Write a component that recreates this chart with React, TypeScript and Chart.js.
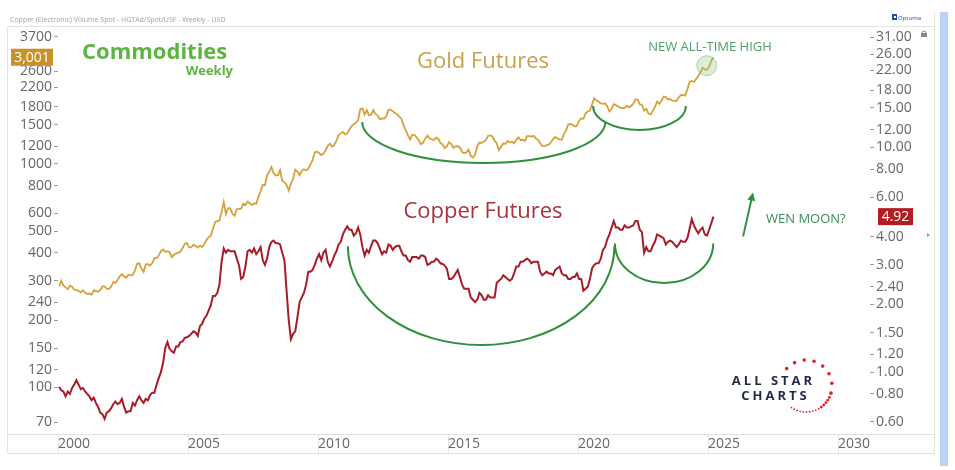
import React, { useEffect, useRef } from 'react';
import { Chart, registerables } from 'chart.js';

Chart.register(...registerables);

// ---- data (monthly, starting Jan 2000) ----
const START_YEAR = 2000;

const GOLD: number[] = [
  284, 300, 286, 280, 275, 285, 282, 274, 273, 270, 266, 272,
  265, 262, 263, 260, 272, 270, 268, 273, 283, 283, 276, 276,
  282, 296, 294, 302, 314, 321, 313, 310, 319, 317, 319, 333,
  357, 359, 340, 329, 355, 356, 351, 360, 379, 379, 389, 407,
  414, 405, 406, 403, 383, 392, 398, 400, 405, 420, 439, 442,
  424, 423, 434, 429, 422, 431, 424, 438, 456, 470, 476, 510,
  549, 555, 557, 610, 676, 596, 633, 632, 598, 586, 627, 629,
  631, 664, 655, 679, 667, 655, 665, 665, 712, 754, 806, 803,
  889, 922, 968, 909, 888, 889, 939, 839, 829, 806, 760, 816,
  858, 943, 924, 890, 928, 946, 934, 949, 996, 1043, 1127, 1134,
  1118, 1095, 1113, 1148, 1205, 1233, 1193, 1215, 1271, 1343, 1370, 1391,
  1356, 1372, 1424, 1473, 1510, 1528, 1572, 1756, 1772, 1665, 1739, 1652,
  1656, 1742, 1674, 1650, 1585, 1596, 1594, 1630, 1744, 1747, 1721, 1688,
  1670, 1627, 1593, 1487, 1414, 1343, 1286, 1352, 1349, 1316, 1275, 1225,
  1244, 1300, 1336, 1299, 1287, 1279, 1311, 1296, 1239, 1222, 1176, 1200,
  1251, 1227, 1179, 1198, 1199, 1182, 1131, 1117, 1125, 1159, 1086, 1068,
  1097, 1200, 1246, 1242, 1259, 1276, 1337, 1341, 1326, 1266, 1238, 1152,
  1192, 1234, 1231, 1266, 1246, 1260, 1236, 1283, 1314, 1279, 1282, 1265,
  1331, 1331, 1325, 1335, 1303, 1282, 1238, 1202, 1198, 1215, 1220, 1250,
  1291, 1320, 1300, 1286, 1283, 1359, 1413, 1500, 1510, 1495, 1471, 1480,
  1560, 1597, 1592, 1683, 1716, 1732, 1847, 1968, 1921, 1900, 1866, 1858,
  1867, 1808, 1718, 1760, 1850, 1834, 1807, 1785, 1776, 1777, 1821, 1790,
  1817, 1856, 1947, 1937, 1849, 1836, 1733, 1764, 1681, 1664, 1726, 1798,
  1898, 1855, 1912, 2000, 1992, 1943, 1950, 1918, 1915, 1916, 1985, 2030,
  2033, 2023, 2158, 2330, 2350, 2326, 2398, 2470, 2570, 2690, 2650, 2640,
  2710, 2900, 3001,
];

const COPPER: number[] = [
  0.86, 0.83, 0.82, 0.78, 0.82, 0.80, 0.85, 0.88, 0.92, 0.88, 0.84, 0.85,
  0.82, 0.80, 0.78, 0.75, 0.77, 0.73, 0.70, 0.66, 0.65, 0.62, 0.66, 0.67,
  0.69, 0.72, 0.74, 0.72, 0.73, 0.76, 0.70, 0.66, 0.67, 0.67, 0.73, 0.71,
  0.75, 0.78, 0.75, 0.73, 0.76, 0.75, 0.79, 0.81, 0.81, 0.88, 0.94, 1.00,
  1.10, 1.28, 1.36, 1.27, 1.24, 1.22, 1.30, 1.30, 1.36, 1.37, 1.42, 1.43,
  1.45, 1.48, 1.52, 1.50, 1.45, 1.60, 1.64, 1.73, 1.78, 1.88, 1.98, 2.18,
  2.18, 2.25, 2.45, 3.10, 3.55, 3.40, 3.50, 3.45, 3.45, 3.45, 3.20, 3.00,
  2.60, 2.65, 2.95, 3.45, 3.50, 3.40, 3.55, 3.35, 3.45, 3.60, 3.15, 3.00,
  3.20, 3.60, 3.80, 3.85, 3.75, 3.75, 3.70, 3.40, 3.15, 2.30, 1.70, 1.40,
  1.48, 1.52, 1.75, 2.05, 2.15, 2.25, 2.45, 2.80, 2.80, 2.85, 3.00, 3.20,
  3.35, 3.15, 3.40, 3.50, 3.10, 2.95, 3.10, 3.30, 3.45, 3.70, 3.80, 4.10,
  4.30, 4.45, 4.30, 4.30, 4.05, 4.15, 4.40, 4.10, 3.60, 3.30, 3.50, 3.40,
  3.65, 3.85, 3.85, 3.75, 3.55, 3.35, 3.45, 3.40, 3.70, 3.65, 3.50, 3.60,
  3.65, 3.65, 3.45, 3.30, 3.30, 3.15, 3.10, 3.25, 3.25, 3.25, 3.20, 3.30,
  3.30, 3.25, 3.00, 3.03, 3.10, 3.10, 3.20, 3.15, 3.05, 3.03, 2.98, 2.88,
  2.60, 2.60, 2.65, 2.75, 2.85, 2.65, 2.45, 2.35, 2.35, 2.35, 2.15, 2.10,
  2.05, 2.10, 2.25, 2.20, 2.10, 2.10, 2.20, 2.15, 2.15, 2.15, 2.50, 2.55,
  2.60, 2.70, 2.65, 2.60, 2.55, 2.60, 2.75, 2.95, 2.95, 3.10, 3.10, 3.15,
  3.20, 3.15, 3.05, 3.10, 3.10, 3.10, 2.80, 2.70, 2.75, 2.80, 2.75, 2.75,
  2.70, 2.85, 2.90, 2.95, 2.75, 2.70, 2.70, 2.60, 2.60, 2.65, 2.65, 2.75,
  2.60, 2.60, 2.30, 2.35, 2.40, 2.60, 2.90, 3.00, 3.05, 3.05, 3.20, 3.50,
  3.60, 3.90, 4.10, 4.40, 4.70, 4.40, 4.40, 4.30, 4.30, 4.50, 4.40, 4.40,
  4.45, 4.50, 4.70, 4.70, 4.30, 4.20, 3.40, 3.60, 3.45, 3.45, 3.65, 3.80,
  4.10, 4.05, 4.00, 3.95, 3.70, 3.80, 3.85, 3.80, 3.70, 3.60, 3.70, 3.85,
  3.80, 3.80, 3.95, 4.35, 4.80, 4.50, 4.30, 4.15, 4.30, 4.40, 4.10, 4.05,
  4.30, 4.60, 4.92,
];

const GOLD_TICKS = [70, 100, 120, 150, 200, 240, 300, 400, 500, 600, 800, 1000, 1200, 1500, 1800, 2200, 2600, 3700];
const COPPER_TICKS = [0.6, 0.8, 1, 1.2, 1.5, 2, 2.4, 3, 4, 6, 8, 10, 12, 15, 18, 22, 26, 31];
const YEAR_TICKS = [2000, 2005, 2010, 2015, 2020, 2025, 2030];

// annotation arcs (in data space): axis, start/end year, rim value, bottom value
const ARCS = [
  { axis: 'yL', x0: 2011.7, x1: 2021.05, rim: 1540, bottom: 1010 },
  { axis: 'yL', x0: 2020.58, x1: 2024.15, rim: 1818, bottom: 1419 },
  { axis: 'yR', x0: 2011.15, x1: 2021.4, rim: 3.63, bottom: 1.32 },
  { axis: 'yR', x0: 2021.42, x1: 2025.2, rim: 3.74, bottom: 2.49 },
];
const ARROW = { x0: 2026.35, y0: 4.02, x1: 2026.73, y1: 6.3 };
const ATH_MARK = { x: 2024.95, y: 2750 };

const xOf = (i: number) => START_YEAR + (i + 0.5) / 12;

const TICK_FONT = { family: '"Open Sans"', size: 14 };
const GREEN = '#2f8f3a';

function spacedText(ctx: CanvasRenderingContext2D, text: string, cx: number, y: number, sp: number) {
  const chars = Array.from(text);
  const ws = chars.map((c) => ctx.measureText(c).width);
  const total = ws.reduce((a, b) => a + b, 0) + sp * (chars.length - 1);
  let x = cx - total / 2;
  ctx.textAlign = 'left';
  chars.forEach((c, i) => {
    ctx.fillText(c, x, y);
    x += ws[i] + sp;
  });
}

const decorPlugin = {
  id: 'decor',
  beforeDraw(chart: any) {
    const ctx = chart.ctx as CanvasRenderingContext2D;
    ctx.save();
    ctx.fillStyle = '#ffffff';
    ctx.fillRect(0, 0, chart.width, chart.height);
    // header
    ctx.fillStyle = '#a0a0a0';
    ctx.font = '7px "Open Sans"';
    ctx.textAlign = 'left';
    ctx.textBaseline = 'middle';
    ctx.fillText('Copper (Electronic) Volume Spot - HGTAd/Spot/USF - Weekly - USD', 10, 20);
    // blue side bar
    ctx.fillStyle = '#bcd3f7';
    ctx.fillRect(940, 12, 8, 454);
    // frame
    const xs = chart.scales.x;
    const ca = chart.chartArea;
    ctx.strokeStyle = '#e2e2e2';
    ctx.lineWidth = 1;
    ctx.beginPath();
    ctx.moveTo(7.5, 26.5); ctx.lineTo(934.5, 26.5);
    ctx.moveTo(7.5, 26.5); ctx.lineTo(7.5, 453.5);
    ctx.moveTo(934.5, 12); ctx.lineTo(934.5, 453.5);
    ctx.moveTo(7.5, ca.bottom + 1.5); ctx.lineTo(934.5, ca.bottom + 1.5);
    ctx.moveTo(7.5, 453.5); ctx.lineTo(934.5, 453.5);
    YEAR_TICKS.forEach((v) => {
      const px = Math.round(xs.getPixelForValue(v)) + 0.5;
      ctx.moveTo(px, ca.bottom + 1.5); ctx.lineTo(px, 453.5);
    });
    ctx.stroke();
    // Optuma logo
    ctx.fillStyle = '#1f4fa0';
    ctx.fillRect(892, 14, 5, 6);
    ctx.fillStyle = '#ffffff';
    ctx.fillRect(894, 16, 2, 2);
    ctx.fillStyle = '#1f4fa0';
    ctx.font = '6px "Open Sans"';
    ctx.fillText('Optuma', 898, 18);
    // lock icon
    ctx.fillStyle = '#888';
    ctx.fillRect(921, 33, 6, 4);
    ctx.strokeStyle = '#888';
    ctx.beginPath();
    ctx.arc(924, 33, 2, Math.PI, 0);
    ctx.stroke();
    // small marker at right
    ctx.fillStyle = '#999';
    ctx.beginPath();
    ctx.moveTo(927, 233); ctx.lineTo(930, 235); ctx.lineTo(927, 237); ctx.closePath();
    ctx.fill();
    ctx.restore();
  },
  afterDatasetsDraw(chart: any) {
    const ctx = chart.ctx as CanvasRenderingContext2D;
    const xs = chart.scales.x;
    ctx.save();
    // arcs
    ctx.strokeStyle = GREEN;
    ctx.lineWidth = 2;
    ARCS.forEach((a) => {
      const ys = chart.scales[a.axis];
      const p0 = xs.getPixelForValue(a.x0);
      const p1 = xs.getPixelForValue(a.x1);
      const top = ys.getPixelForValue(a.rim);
      const bot = ys.getPixelForValue(a.bottom);
      ctx.beginPath();
      ctx.ellipse((p0 + p1) / 2, top, (p1 - p0) / 2, bot - top, 0, 0, Math.PI);
      ctx.stroke();
    });
    // arrow
    const yr = chart.scales.yR;
    const ax0 = xs.getPixelForValue(ARROW.x0), ay0 = yr.getPixelForValue(ARROW.y0);
    const ax1 = xs.getPixelForValue(ARROW.x1), ay1 = yr.getPixelForValue(ARROW.y1);
    const ang = Math.atan2(ay1 - ay0, ax1 - ax0);
    ctx.beginPath();
    ctx.moveTo(ax0, ay0);
    ctx.lineTo(ax1 - 5 * Math.cos(ang), ay1 - 5 * Math.sin(ang));
    ctx.stroke();
    ctx.fillStyle = GREEN;
    ctx.beginPath();
    ctx.moveTo(ax1, ay1);
    ctx.lineTo(ax1 - 8 * Math.cos(ang) + 4 * Math.sin(ang), ay1 - 8 * Math.sin(ang) - 4 * Math.cos(ang));
    ctx.lineTo(ax1 - 8 * Math.cos(ang) - 4 * Math.sin(ang), ay1 - 8 * Math.sin(ang) + 4 * Math.cos(ang));
    ctx.closePath();
    ctx.fill();
    // ATH circle
    const yl = chart.scales.yL;
    const cx = xs.getPixelForValue(ATH_MARK.x), cy = yl.getPixelForValue(ATH_MARK.y);
    ctx.beginPath();
    ctx.arc(cx, cy, 10, 0, Math.PI * 2);
    ctx.fillStyle = 'rgba(150,205,140,0.35)';
    ctx.fill();
    ctx.strokeStyle = 'rgba(130,185,120,0.6)';
    ctx.lineWidth = 1;
    ctx.stroke();
    ctx.restore();
  },
  afterDraw(chart: any) {
    const ctx = chart.ctx as CanvasRenderingContext2D;
    ctx.save();
    ctx.textBaseline = 'middle';
    // titles
    ctx.textAlign = 'center';
    ctx.font = '22px "Open Sans"';
    ctx.fillStyle = '#c9a14a';
    ctx.fillText('Gold Futures', 483, 62);
    ctx.fillStyle = '#a8323a';
    ctx.fillText('Copper Futures', 483, 212);
    // annotations text
    ctx.font = '13px "Open Sans"';
    ctx.fillStyle = '#4f9e64';
    ctx.fillText('NEW ALL-TIME HIGH', 710, 47);
    ctx.textAlign = 'left';
    ctx.fillStyle = '#3d8b57';
    ctx.fillText('WEN MOON?', 766, 219);
    // Commodities Weekly logo
    ctx.fillStyle = '#5cb443';
    ctx.font = 'bold 22px "Open Sans"';
    ctx.textAlign = 'left';
    ctx.fillText('Commodities', 82, 53);
    ctx.font = 'bold 13px "Open Sans"';
    ctx.textAlign = 'right';
    ctx.fillText('Weekly', 233, 71);
    // All Star Charts logo
    ctx.fillStyle = '#1f2a44';
    ctx.font = 'bold 13px "Open Sans"';
    spacedText(ctx, 'ALL STAR', 772, 381, 3);
    spacedText(ctx, 'CHARTS', 774, 396, 3);
    ctx.fillStyle = '#e0202c';
    const dc = { x: 806, y: 386, r: 26 };
    for (let k = 0; k < 8; k++) {
      const a = ((-138 + 22 * k) * Math.PI) / 180;
      ctx.beginPath();
      ctx.arc(dc.x + dc.r * Math.cos(a), dc.y + dc.r * Math.sin(a), 1.8, 0, Math.PI * 2);
      ctx.fill();
    }
    for (let a2 = 26; a2 <= 128; a2 += 7) {
      const a = (a2 * Math.PI) / 180;
      ctx.beginPath();
      ctx.arc(dc.x + dc.r * Math.cos(a), dc.y + dc.r * Math.sin(a), a2 < 60 ? 1.4 : 0.9, 0, Math.PI * 2);
      ctx.fill();
    }
    // last value badges
    const yl = chart.scales.yL;
    const yr = chart.scales.yR;
    const gLast = GOLD[GOLD.length - 1];
    const cLast = COPPER[COPPER.length - 1];
    const gy = yl.getPixelForValue(gLast);
    const cy = yr.getPixelForValue(cLast);
    ctx.font = '14px "Open Sans"';
    ctx.textAlign = 'center';
    ctx.fillStyle = '#c8922b';
    ctx.fillRect(11, gy - 8.5, 42, 17);
    ctx.fillStyle = '#ffffff';
    ctx.fillText(gLast.toLocaleString('en-US'), 32, gy + 0.5);
    ctx.fillStyle = '#b01e24';
    ctx.fillRect(878, cy - 8.5, 35, 17);
    ctx.fillStyle = '#ffffff';
    ctx.fillText(cLast.toFixed(2), 895.5, cy + 0.5);
    ctx.restore();
  },
};

export default function App() {
  const ref = useRef<HTMLCanvasElement>(null);
  useEffect(() => {
    const canvas = ref.current;
    if (!canvas) return;
    const chart = new Chart(canvas, {
      type: 'line',
      data: {
        datasets: [
          {
            label: 'Gold Futures',
            data: GOLD.map((v, i) => ({ x: xOf(i), y: v })),
            yAxisID: 'yL',
            borderColor: '#d6a13a',
            borderWidth: 1.8,
            pointRadius: 0,
            tension: 0,
          },
          {
            label: 'Copper Futures',
            data: COPPER.map((v, i) => ({ x: xOf(i), y: v })),
            yAxisID: 'yR',
            borderColor: '#a61c28',
            borderWidth: 2,
            pointRadius: 0,
            tension: 0,
          },
        ],
      },
      options: {
        responsive: false,
        animation: false,
        events: [],
        layout: { padding: { left: 8, right: 20, top: 26, bottom: 17 } },
        plugins: { legend: { display: false }, tooltip: { enabled: false } },
        scales: {
          x: {
            type: 'linear',
            min: 2000,
            max: 2031.23,
            afterBuildTicks: (s: any) => { s.ticks = YEAR_TICKS.map((v) => ({ value: v })); },
            afterFit: (s: any) => { s.height = 20; },
            ticks: {
              align: 'start',
              autoSkip: false,
              maxRotation: 0,
              padding: 3,
              color: '#666',
              font: TICK_FONT,
              callback: (v: any) => String(v),
            },
            grid: { display: false, drawTicks: false },
            border: { display: false },
          },
          yL: {
            type: 'logarithmic',
            position: 'left',
            min: 62.5,
            max: 4140,
            afterBuildTicks: (s: any) => { s.ticks = GOLD_TICKS.map((v) => ({ value: v })); },
            afterFit: (s: any) => { s.width = 50; },
            ticks: {
              autoSkip: false,
              padding: 2,
              color: '#666',
              font: TICK_FONT,
              callback: (v: any) => String(v),
            },
            grid: { drawOnChartArea: false, drawTicks: true, tickLength: 4, color: '#999' },
            border: { display: false },
          },
          yR: {
            type: 'logarithmic',
            position: 'right',
            min: 0.536,
            max: 34.7,
            afterBuildTicks: (s: any) => { s.ticks = COPPER_TICKS.map((v) => ({ value: v })); },
            afterFit: (s: any) => { s.width = 65; },
            ticks: {
              autoSkip: false,
              padding: 2,
              color: '#666',
              font: TICK_FONT,
              callback: (v: any) => Number(v).toFixed(2),
            },
            grid: { drawOnChartArea: false, drawTicks: true, tickLength: 4, color: '#999' },
            border: { display: false },
          },
        },
      } as any,
      plugins: [decorPlugin],
    });
    return () => chart.destroy();
  }, []);
  return (
    <div style={{ position: 'fixed', left: 0, top: 0, width: 955, height: 470, background: '#fff' }}>
      <canvas ref={ref} width={955} height={470} style={{ display: 'block', width: 955, height: 470 }} />
    </div>
  );
}
